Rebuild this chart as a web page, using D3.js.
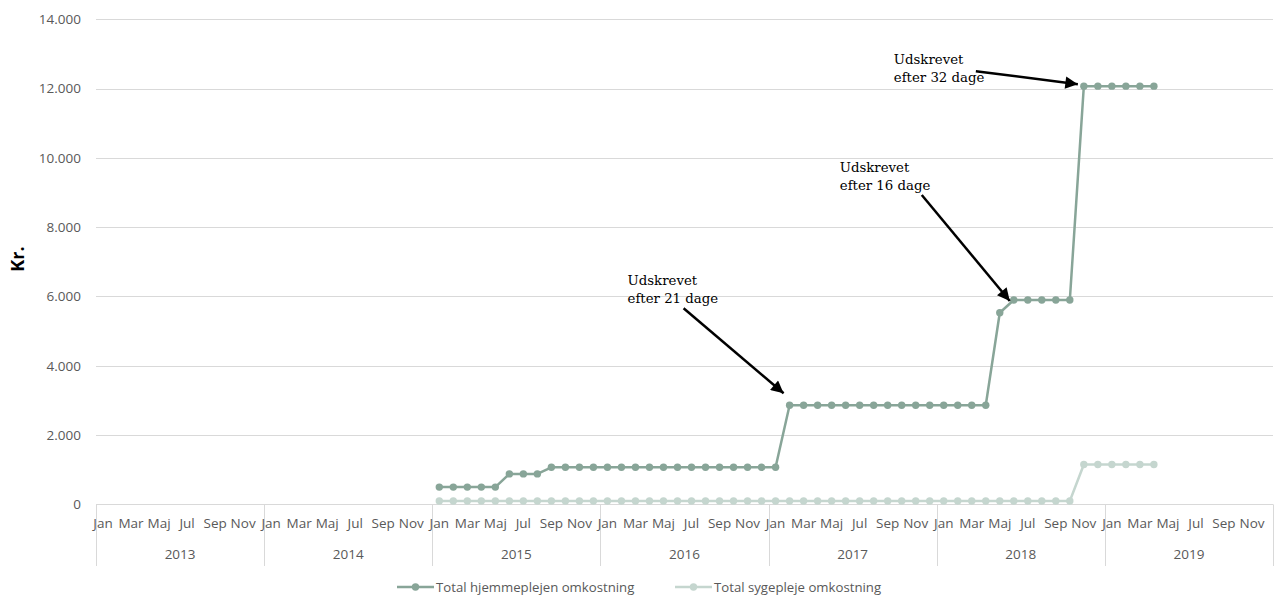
<!DOCTYPE html>
<html>
<head>
<meta charset="utf-8">
<script src="https://cdn.jsdelivr.net/npm/d3@7/dist/d3.min.js"></script>
<style>
  html, body { margin: 0; padding: 0; background: #fff; }
  svg { display: block; }
</style>
</head>
<body>
<svg id="chart" width="1274" height="596"></svg>
<script>
// Month and year categories along the x axis
const years = ["2013", "2014", "2015", "2016", "2017", "2018", "2019"];
const monthNames = ["Jan", "Feb", "Mar", "Apr", "Maj", "Jun", "Jul", "Aug", "Sep", "Okt", "Nov", "Dec"];
const shownMonths = ["Jan", "Mar", "Maj", "Jul", "Sep", "Nov"];
const yTicks = [0, 2000, 4000, 6000, 8000, 10000, 12000, 14000];

// Monthly costs, Jan 2013 .. Dec 2019 (null = no value)
const hjemmeplejen = [
  null, null, null, null, null, null, null, null, null, null, null, null,
  null, null, null, null, null, null, null, null, null, null, null, null,
  500, 500, 500, 500, 500, 880, 880, 880, 1070, 1070, 1070, 1070,
  1070, 1070, 1070, 1070, 1070, 1070, 1070, 1070, 1070, 1070, 1070, 1070,
  1070, 2860, 2860, 2860, 2860, 2860, 2860, 2860, 2860, 2860, 2860, 2860,
  2860, 2860, 2860, 2860, 5530, 5900, 5900, 5900, 5900, 5900, 12070, 12070,
  12070, 12070, 12070, 12070, null, null, null, null, null, null, null, null
];
const sygepleje = [
  null, null, null, null, null, null, null, null, null, null, null, null,
  null, null, null, null, null, null, null, null, null, null, null, null,
  100, 100, 100, 100, 100, 100, 100, 100, 100, 100, 100, 100,
  100, 100, 100, 100, 100, 100, 100, 100, 100, 100, 100, 100,
  100, 100, 100, 100, 100, 100, 100, 100, 100, 100, 100, 100,
  100, 100, 100, 100, 100, 100, 100, 100, 100, 100, 1150, 1150,
  1150, 1150, 1150, 1150, null, null, null, null, null, null, null, null
];
const seriesNames = ["Total hjemmeplejen omkostning", "Total sygepleje omkostning"];

// Discharge notes: target month key and text lines
const noteMonths = ["2017-Feb", "2018-Jun", "2018-Nov"];
const noteLines = [
  ["Udskrevet", "efter 21 dage"],
  ["Udskrevet", "efter 16 dage"],
  ["Udskrevet", "efter 32 dage"]
];

// ---- layout ----
const colors = ["#88a598", "#c5d6cf"];
const plotLeft = 96, plotRight = 1273, plotTop = 19.3, plotBottom = 504.4;
const axisBandBottom = 566;
const labelFont = "'Open Sans', sans-serif";
const labelColor = "#595959";

const svg = d3.select("#chart");
const months = [];
years.forEach(yr => monthNames.forEach(m => months.push(yr + "-" + m)));

const x = d3.scaleBand().domain(months).range([plotLeft, plotRight]).padding(0);
const y = d3.scaleLinear().domain([0, 14000]).range([plotBottom, plotTop]);
const cx = k => x(k) + x.bandwidth() / 2;

const fmt = v => d3.format(",")(v).replace(/,/g, ".");

// gridlines and y labels
const yAxis = d3.axisLeft(y).tickValues(yTicks).tickSize(0).tickFormat(fmt).tickPadding(15);
const gy = svg.append("g").attr("transform", `translate(${plotLeft},0)`).call(yAxis);
gy.select(".domain").remove();
gy.selectAll("text")
  .attr("font-family", labelFont)
  .attr("font-size", 13.5)
  .attr("fill", labelColor);
svg.append("g").selectAll("line").data(yTicks.filter(d => d > 0)).join("line")
  .attr("x1", plotLeft).attr("x2", plotRight)
  .attr("y1", d => Math.round(y(d)) + 0.5).attr("y2", d => Math.round(y(d)) + 0.5)
  .attr("stroke", "#d9d9d9").attr("stroke-width", 1);

// y title
svg.append("text")
  .attr("transform", `translate(24,259) rotate(-90)`)
  .attr("text-anchor", "middle")
  .attr("font-family", labelFont)
  .attr("font-weight", "bold")
  .attr("font-size", 18)
  .attr("fill", "#000")
  .text("Kr.");

// x axis: baseline, month labels, year groups
const axisG = svg.append("g");
axisG.append("line")
  .attr("x1", plotLeft).attr("x2", plotRight)
  .attr("y1", Math.round(plotBottom) + 0.5).attr("y2", Math.round(plotBottom) + 0.5)
  .attr("stroke", "#d9d9d9");
const xAxis = d3.axisBottom(x)
  .tickValues(months.filter(k => shownMonths.includes(k.split("-")[1])))
  .tickFormat(k => k.split("-")[1])
  .tickSize(0).tickPadding(14);
const gx = svg.append("g").attr("transform", `translate(0,${plotBottom})`).call(xAxis);
gx.select(".domain").remove();
gx.selectAll("text")
  .attr("font-family", labelFont)
  .attr("font-size", 13.5)
  .attr("fill", labelColor);

const yearEdges = years.map(yr => x(yr + "-Jan")).concat([plotRight]);
axisG.selectAll("line.sep").data(yearEdges).join("line")
  .attr("class", "sep")
  .attr("x1", d => Math.round(d) + 0.5).attr("x2", d => Math.round(d) + 0.5)
  .attr("y1", plotBottom).attr("y2", axisBandBottom)
  .attr("stroke", "#d9d9d9");
axisG.selectAll("text.year").data(years).join("text")
  .attr("class", "year")
  .attr("x", yr => (x(yr + "-Jan") + x(yr + "-Dec") + x.bandwidth()) / 2)
  .attr("y", 554)
  .attr("dy", "0.35em")
  .attr("text-anchor", "middle")
  .attr("font-family", labelFont)
  .attr("font-size", 13.5)
  .attr("fill", labelColor)
  .text(d => d);

// series lines and markers (light series under dark)
const seriesData = [hjemmeplejen, sygepleje];
const line = d3.line()
  .defined(d => d.v !== null)
  .x(d => cx(d.k)).y(d => y(d.v));
[1, 0].forEach(i => {
  const pts = months.map((k, j) => ({ k, v: seriesData[i][j] }));
  const g = svg.append("g");
  g.append("path").datum(pts)
    .attr("d", line)
    .attr("fill", "none")
    .attr("stroke", colors[i])
    .attr("stroke-width", 2.5)
    .attr("stroke-linejoin", "round");
  g.selectAll("circle").data(pts.filter(d => d.v !== null)).join("circle")
    .attr("cx", d => cx(d.k)).attr("cy", d => y(d.v))
    .attr("r", 3.7)
    .attr("fill", colors[i]);
});

// annotations
const defs = svg.append("defs");
defs.append("marker")
  .attr("id", "arrow")
  .attr("viewBox", "0 0 10 10")
  .attr("refX", 10).attr("refY", 5)
  .attr("markerWidth", 5.5).attr("markerHeight", 5)
  .attr("markerUnits", "strokeWidth")
  .attr("orient", "auto")
  .append("path").attr("d", "M0,0 L10,5 L0,10 z").attr("fill", "#000");

// pixel offsets from each target point: [text dx, text dy, arrow start dx, dy, arrow tip dx, dy]
const noteOffsets = [
  [-162, -120, -106, -97, -6, -12],
  [-174, -128, -92, -105, -4, 1],
  [-190, -22, -108, -15, -6, -2]
];
noteMonths.forEach((k, i) => {
  const idx = months.indexOf(k);
  const px = cx(k), py = y(hjemmeplejen[idx]);
  const o = noteOffsets[i];
  const t = svg.append("text")
    .attr("x", px + o[0]).attr("y", py + o[1])
    .attr("font-family", "'DejaVu Serif', 'Liberation Serif', serif")
    .attr("font-size", 13.3)
    .attr("fill", "#000");
  noteLines[i].forEach((s, j) => {
    t.append("tspan").attr("x", px + o[0]).attr("dy", j === 0 ? 0 : 18).text(s);
  });
  svg.append("line")
    .attr("x1", px + o[2]).attr("y1", py + o[3])
    .attr("x2", px + o[4]).attr("y2", py + o[5])
    .attr("stroke", "#000").attr("stroke-width", 2.5)
    .attr("marker-end", "url(#arrow)");
});

// legend
const legend = svg.append("g").attr("transform", "translate(0,587)");
const legendX = [397, 675];
seriesNames.forEach((name, i) => {
  const g = legend.append("g").attr("transform", `translate(${legendX[i]},0)`);
  g.append("line").attr("x1", 0).attr("x2", 37).attr("y1", 0).attr("y2", 0)
    .attr("stroke", colors[i]).attr("stroke-width", 2.5);
  g.append("circle").attr("cx", 18.5).attr("cy", 0).attr("r", 3.7).attr("fill", colors[i]);
  g.append("text").attr("x", 39).attr("y", 0).attr("dy", "0.35em")
    .attr("font-family", labelFont)
    .attr("font-size", 13.2)
    .attr("fill", labelColor)
    .text(name);
});
</script>
</body>
</html>
